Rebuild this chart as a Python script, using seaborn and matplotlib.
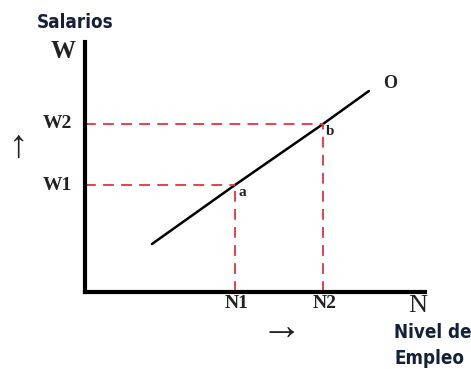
import matplotlib
matplotlib.use("Agg")
import matplotlib.pyplot as plt
import seaborn as sns
import pandas as pd

# Supply curve O (employment N vs wage W) and the two marked equilibria
curve_n = [1.97, 4.41, 7.0, 8.35]
curve_w = [1.92, 4.28, 6.72, 8.04]
point_names = ["a", "b"]
n_levels = [4.41, 7.0]
w_levels = [4.28, 6.72]
n_labels = ["N1", "N2"]
w_labels = ["W1", "W2"]

sns.set_style("white")
plt.rcParams["font.family"] = ["DejaVu Sans"]

fig = plt.figure(figsize=(4.71, 3.69), dpi=100)
ax = fig.add_axes([85 / 471, 77 / 369, 340 / 471, 250 / 369])

df = pd.DataFrame({"N": curve_n, "W": curve_w})
sns.lineplot(data=df, x="N", y="W", ax=ax, color="black", lw=1.8, sort=True)

red = "#e8323c"
for n, w in zip(n_levels, w_levels):
    ax.plot([0, n], [w, w], color=red, lw=1.3, dashes=(6, 4))
    ax.plot([n, n], [0, w], color=red, lw=1.3, dashes=(6, 4))

ax.set_xlim(0, 10)
ax.set_ylim(0, 10)
ax.set_xlabel("")
ax.set_ylabel("")
ax.set_xticks([])
ax.set_yticks([])
for side in ("top", "right"):
    ax.spines[side].set_visible(False)
for side in ("left", "bottom"):
    ax.spines[side].set_linewidth(3)
    ax.spines[side].set_color("black")

serif = ["Liberation Serif", "DejaVu Serif"]
sans = ["DejaVu Sans"]
navy = "#14203a"
ink = "#222222"

# Axis titles
ax.text(-1.42, 10.78, "Salarios", family=sans, stretch="condensed", weight="bold",
        fontsize=13.5, color=navy, ha="left", va="center", clip_on=False)
ax.text(-0.65, 9.6, "W", family=serif, weight="bold", fontsize=18,
        ha="center", va="center", clip_on=False, color=ink)
ax.text(9.79, -0.55, "N", family=serif, fontsize=19,
        ha="center", va="center", clip_on=False, color=ink)
ax.text(9.1, -1.6, "Nivel de", family=sans, stretch="condensed", weight="bold",
        fontsize=13.5, color=navy, ha="left", va="center", clip_on=False)
ax.text(9.1, -2.66, "Empleo", family=sans, stretch="condensed", weight="bold",
        fontsize=13.5, color=navy, ha="left", va="center", clip_on=False)

# Direction arrows
ax.text(-1.96, 5.8, "↑", family=serif, fontsize=28, ha="center", va="center",
        clip_on=False, color=ink)
ax.text(5.76, -1.48, "→", family=serif, fontsize=30, ha="center", va="center",
        clip_on=False, color=ink)

# Labels for the marked levels
for w, lab in zip(w_levels, w_labels):
    ax.text(-0.82, w, lab, family=serif, weight="bold", fontsize=14,
            ha="center", va="center", clip_on=False, color=ink)
for n, lab in zip(n_levels, n_labels):
    ax.text(n + 0.05, -0.48, lab, family=serif, weight="bold", fontsize=14,
            ha="center", va="center", clip_on=False, color=ink)

# Point and curve names
for n, w, name in zip(n_levels, w_levels, point_names):
    ax.text(n + 0.22, w - 0.3, name, family=serif, weight="bold", fontsize=11,
            ha="center", va="center", color=ink)
ax.text(8.97, 8.36, "O", family=serif, weight="bold", fontsize=13,
        ha="center", va="center", clip_on=False, color=ink)

fig.savefig("out.png", dpi=100)
